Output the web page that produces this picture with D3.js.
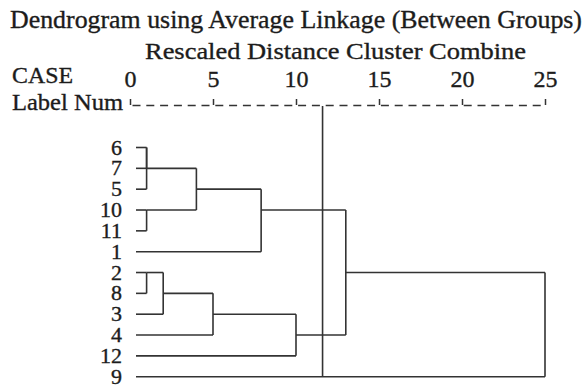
<!DOCTYPE html>
<html>
<head>
<meta charset="utf-8">
<script src="https://cdn.jsdelivr.net/npm/d3@7"></script>
<style>
  html, body { margin: 0; padding: 0; background: #fff; }
  svg { display: block; }
  text { font-family: "Liberation Serif", "Times New Roman", serif; fill: #1c1c1c; stroke: #1c1c1c; stroke-width: 0.35px; }
</style>
</head>
<body>
<div id="chart"></div>
<script>
// ---- data ----
const leafLabels = ["6", "7", "5", "10", "11", "1", "2", "8", "3", "4", "12", "9"];
// merges: [clusterA, clusterB, rescaled distance]; "mN" refers to the N-th merge
const merges = [
  ["6", "7", 1.0],
  ["m0", "5", 1.0],
  ["10", "11", 1.0],
  ["m1", "m2", 4.0],
  ["m3", "1", 7.9],
  ["2", "8", 1.0],
  ["m5", "3", 2.0],
  ["m6", "4", 5.0],
  ["m7", "12", 10.0],
  ["m4", "m8", 13.0],
  ["m9", "9", 25.0]
];
const tickValues = [0, 5, 10, 15, 20, 25];
const cutoff = 11.6;
const titleText = "Dendrogram using Average Linkage (Between Groups)";
const subtitleText = "Rescaled Distance Cluster Combine";

// ---- layout ----
const W = 587, H = 390;
const svg = d3.select("#chart").append("svg").attr("width", W).attr("height", H);

const x = d3.scaleLinear().domain([0, 25]).range([130, 545]);
const y = d3.scaleLinear().domain([0, leafLabels.length - 1]).range([147.5, 376.7]);
const axisY = 105;
const leafStart = x(0) + 6;
const stroke = "#333";

// titles
svg.append("text").attr("x", 10).attr("y", 28).attr("font-size", 25)
  .attr("textLength", 572).attr("lengthAdjust", "spacingAndGlyphs").text(titleText);
svg.append("text").attr("x", 145).attr("y", 59)
  .attr("font-size", 24).attr("textLength", 381).attr("lengthAdjust", "spacingAndGlyphs").text(subtitleText);
svg.append("text").attr("x", 12).attr("y", 83).attr("font-size", 24)
  .attr("textLength", 61).attr("lengthAdjust", "spacingAndGlyphs").text("CASE");
svg.append("text").attr("x", 12).attr("y", 110).attr("font-size", 24)
  .attr("textLength", 111).attr("lengthAdjust", "spacingAndGlyphs").text("Label Num");

// axis
const axis = d3.axisTop(x).tickValues(tickValues).tickSize(6).tickSizeOuter(0).tickPadding(12);
const gAxis = svg.append("g").attr("transform", `translate(0,${axisY})`).call(axis);
gAxis.attr("font-family", null).attr("font-size", null);
gAxis.select(".domain").attr("stroke", stroke).attr("stroke-width", 1.5)
  .attr("stroke-dasharray", "8,5.8").attr("stroke-dashoffset", -2);
gAxis.selectAll(".tick line").attr("stroke", stroke).attr("stroke-width", 1.5);
gAxis.selectAll(".tick text").attr("font-size", 24).attr("fill", "#1c1c1c");

// dendrogram
const nodes = {};
leafLabels.forEach((l, i) => { nodes[l] = { row: i, x: leafStart }; });
const lines = svg.append("g").attr("stroke", stroke).attr("stroke-width", 1.6).attr("fill", "none");
merges.forEach((m, i) => {
  const a = nodes[m[0]], b = nodes[m[1]];
  const xm = x(m[2]);
  [a, b].forEach(c => {
    lines.append("line").attr("x1", c.x).attr("x2", xm).attr("y1", y(c.row)).attr("y2", y(c.row));
  });
  const r1 = Math.min(a.row, b.row), r2 = Math.max(a.row, b.row);
  lines.append("line").attr("x1", xm).attr("x2", xm).attr("y1", y(r1)).attr("y2", y(r2));
  nodes["m" + i] = { row: Math.floor((r1 + r2) / 2), x: xm };
});

// cut-off line
lines.append("line").attr("x1", x(cutoff)).attr("x2", x(cutoff))
  .attr("y1", axisY + 1).attr("y2", y(leafLabels.length - 1));

// leaf labels
svg.append("g").selectAll("text").data(leafLabels).join("text")
  .attr("x", 122).attr("y", (d, i) => y(i) + 7)
  .attr("text-anchor", "end").attr("font-size", 22).text(d => d);
</script>
</body>
</html>
